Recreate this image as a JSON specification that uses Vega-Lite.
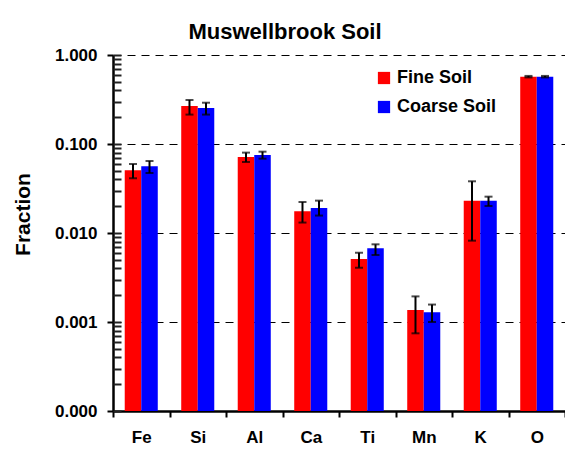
{
  "$schema": "https://vega.github.io/schema/vega-lite/v6.json",
  "width": 452,
  "height": 356,
  "autosize": {"type": "none"},
  "padding": {"left": 113, "top": 55, "right": 0, "bottom": 46},
  "background": "#ffffff",
  "config": {
    "font": "Liberation Sans",
    "view": {"stroke": null}
  },
  "title": {
    "text": "Muswellbrook Soil",
    "fontSize": 22,
    "fontWeight": "bold",
    "color": "#000000",
    "anchor": "middle",
    "frame": "group",
    "dx": -54,
    "offset": 2
  },
  "data": {
    "values": [
      {"element": "Fe", "soil": "Fine Soil", "value": 0.0506, "lo": 0.0412, "hi": 0.0596},
      {"element": "Fe", "soil": "Coarse Soil", "value": 0.0561, "lo": 0.0472, "hi": 0.0644},
      {"element": "Si", "soil": "Fine Soil", "value": 0.267, "lo": 0.214, "hi": 0.312},
      {"element": "Si", "soil": "Coarse Soil", "value": 0.254, "lo": 0.214, "hi": 0.291},
      {"element": "Al", "soil": "Fine Soil", "value": 0.0714, "lo": 0.0628, "hi": 0.080},
      {"element": "Al", "soil": "Coarse Soil", "value": 0.0752, "lo": 0.0684, "hi": 0.082},
      {"element": "Ca", "soil": "Fine Soil", "value": 0.0175, "lo": 0.0131, "hi": 0.0223},
      {"element": "Ca", "soil": "Coarse Soil", "value": 0.0191, "lo": 0.0157, "hi": 0.0231},
      {"element": "Ti", "soil": "Fine Soil", "value": 0.0051, "lo": 0.00407, "hi": 0.0060},
      {"element": "Ti", "soil": "Coarse Soil", "value": 0.00673, "lo": 0.00566, "hi": 0.00746},
      {"element": "Mn", "soil": "Fine Soil", "value": 0.00136, "lo": 0.000746, "hi": 0.00194},
      {"element": "Mn", "soil": "Coarse Soil", "value": 0.00129, "lo": 0.00100, "hi": 0.00157},
      {"element": "K", "soil": "Fine Soil", "value": 0.0231, "lo": 0.0082, "hi": 0.0381},
      {"element": "K", "soil": "Coarse Soil", "value": 0.0231, "lo": 0.0201, "hi": 0.0256},
      {"element": "O", "soil": "Fine Soil", "value": 0.571, "lo": 0.560, "hi": 0.582},
      {"element": "O", "soil": "Coarse Soil", "value": 0.571, "lo": 0.560, "hi": 0.582}
    ]
  },
  "encoding": {
    "x": {
      "field": "element",
      "type": "nominal",
      "sort": ["Fe", "Si", "Al", "Ca", "Ti", "Mn", "K", "O"],
      "scale": {"paddingInner": 0, "paddingOuter": 0},
      "axis": {
        "title": null,
        "labelAngle": 0,
        "labelFontSize": 17,
        "labelFontWeight": "bold",
        "labelColor": "#000000",
        "labelPadding": 12,
        "tickBand": "extent",
        "tickSize": 6,
        "tickWidth": 2,
        "tickColor": "#000000",
        "domainColor": "#000000",
        "domainWidth": 2.5,
        "grid": false
      }
    },
    "xOffset": {
      "field": "soil",
      "type": "nominal",
      "sort": ["Fine Soil", "Coarse Soil"],
      "scale": {"paddingInner": 0, "paddingOuter": 0.71}
    }
  },
  "resolve": {"axis": {"y": "independent"}},
  "layer": [
    {
      "mark": {"type": "bar"},
      "encoding": {
        "y": {
          "field": "value",
          "type": "quantitative",
          "stack": null,
          "scale": {"type": "log", "domain": [0.0001, 1], "nice": false},
          "axis": {
            "orient": "left",
            "title": "Fraction",
            "titleFontSize": 21,
            "titleFontWeight": "bold",
            "titleColor": "#000000",
            "titleX": -84,
            "titleY": 159,
            "titleAngle": -90,
            "titleAlign": "center",
            "titleBaseline": "alphabetic",
            "values": [0.0001, 0.001, 0.01, 0.1, 1],
            "format": ".3f",
            "labelFontSize": 17,
            "labelFontWeight": "bold",
            "labelColor": "#000000",
            "labelPadding": 10,
            "labelOverlap": false,
            "labelFlush": false,
            "domainColor": "#000000",
            "domainWidth": 2.5,
            "tickColor": "#000000",
            "tickWidth": 2,
            "tickSize": 6,
            "grid": true,
            "gridColor": "#000000",
            "gridDash": [8, 6],
            "gridWidth": 1
          }
        },
        "y2": {"datum": 0.0001},
        "color": {
          "field": "soil",
          "type": "nominal",
          "sort": ["Fine Soil", "Coarse Soil"],
          "scale": {"domain": ["Fine Soil", "Coarse Soil"], "range": ["#ff0000", "#0000ff"]},
          "legend": {
            "title": null,
            "orient": "none",
            "legendX": 262,
            "legendY": 14,
            "symbolType": "square",
            "symbolSize": 150,
            "symbolStrokeWidth": 0,
            "labelFontSize": 18,
            "labelFontWeight": "bold",
            "labelColor": "#000000",
            "labelOffset": 4,
            "rowPadding": 11,
            "padding": 0
          }
        }
      }
    },
    {
      "mark": {"type": "rule", "color": "#000000", "strokeWidth": 2},
      "encoding": {
        "y": {
          "field": "lo",
          "type": "quantitative",
          "axis": {
            "orient": "left",
            "title": null,
            "labels": false,
            "domain": false,
            "grid": false,
            "values": [0.0002, 0.0003, 0.0004, 0.0005, 0.0006, 0.0007, 0.0008, 0.0009,
                       0.002, 0.003, 0.004, 0.005, 0.006, 0.007, 0.008, 0.009,
                       0.02, 0.03, 0.04, 0.05, 0.06, 0.07, 0.08, 0.09,
                       0.2, 0.3, 0.4, 0.5, 0.6, 0.7, 0.8, 0.9],
            "tickColor": "#222222",
            "tickWidth": 2,
            "tickSize": -8
          }
        },
        "y2": {"field": "hi"}
      }
    },
    {
      "mark": {"type": "tick", "color": "#000000", "thickness": 2, "size": 8, "orient": "horizontal"},
      "encoding": {
        "y": {
          "field": "hi",
          "type": "quantitative",
          "axis": {
            "orient": "right",
            "offset": -452,
            "title": null,
            "labels": true,
            "labelColor": "#ffffff",
            "labelOpacity": 0,
            "domain": false,
            "grid": false,
            "values": [0.0001, 0.001, 0.01, 0.1, 1],
            "tickColor": "#222222",
            "tickWidth": 2,
            "tickSize": 8
          }
        }
      }
    },
    {
      "mark": {"type": "tick", "color": "#000000", "thickness": 2, "size": 8, "orient": "horizontal"},
      "encoding": {
        "y": {"field": "lo", "type": "quantitative", "axis": null}
      }
    }
  ]
}
